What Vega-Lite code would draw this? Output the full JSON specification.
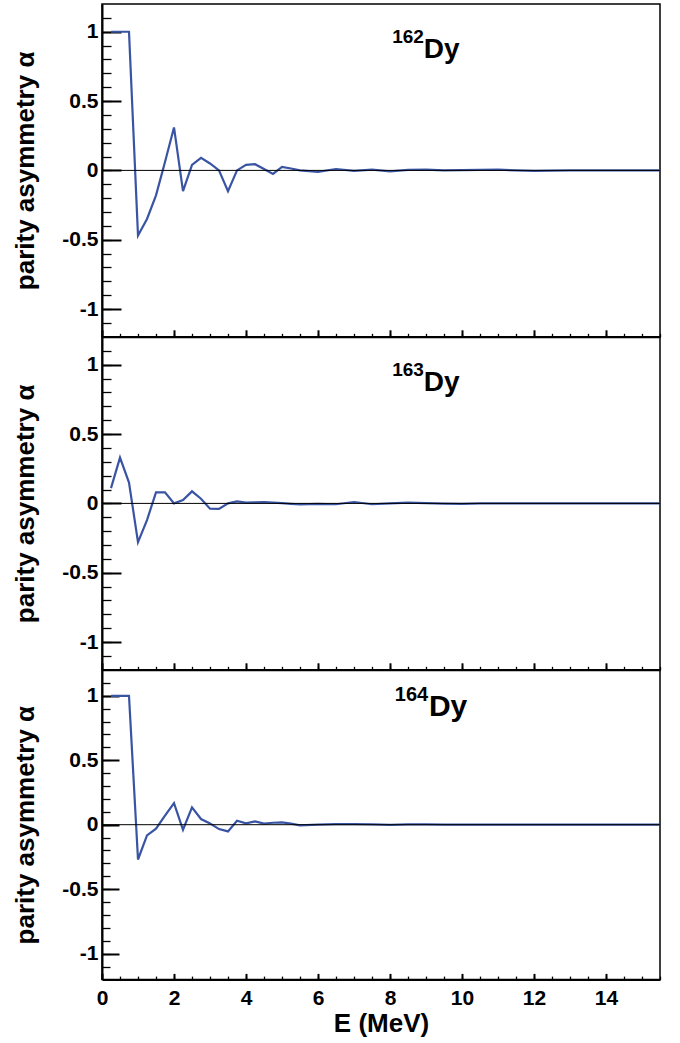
{
  "$schema": "https://vega.github.io/schema/vega-lite/v6.json",
  "background": "white",
  "padding": {"left": 12, "top": 3, "right": 5, "bottom": 3},
  "bounds": "flush",
  "spacing": 0,
  "config": {
    "view": {"stroke": "black", "strokeWidth": 1.5},
    "font": "Liberation Sans",
    "axis": {"grid": false, "labelFlush": false, "domainColor": "black", "tickColor": "black", "labelColor": "black", "titleColor": "black", "labelFont": "Liberation Sans", "titleFont": "Liberation Sans", "labelFontWeight": "bold", "titleFontWeight": "bold"}
  },
  "datasets": {
    "curves": [
      {"nucleus": "162Dy", "E": 0.25, "alpha": 1}, {"nucleus": "162Dy", "E": 0.5, "alpha": 1}, {"nucleus": "162Dy", "E": 0.75, "alpha": 1},
      {"nucleus": "162Dy", "E": 1.0, "alpha": -0.47}, {"nucleus": "162Dy", "E": 1.25, "alpha": -0.35}, {"nucleus": "162Dy", "E": 1.5, "alpha": -0.18},
      {"nucleus": "162Dy", "E": 1.75, "alpha": 0.06}, {"nucleus": "162Dy", "E": 2.0, "alpha": 0.31}, {"nucleus": "162Dy", "E": 2.25, "alpha": -0.15},
      {"nucleus": "162Dy", "E": 2.5, "alpha": 0.04}, {"nucleus": "162Dy", "E": 2.75, "alpha": 0.09}, {"nucleus": "162Dy", "E": 3.0, "alpha": 0.05},
      {"nucleus": "162Dy", "E": 3.25, "alpha": 0.0}, {"nucleus": "162Dy", "E": 3.5, "alpha": -0.15}, {"nucleus": "162Dy", "E": 3.75, "alpha": 0.0},
      {"nucleus": "162Dy", "E": 4.0, "alpha": 0.04}, {"nucleus": "162Dy", "E": 4.25, "alpha": 0.045}, {"nucleus": "162Dy", "E": 4.5, "alpha": 0.01},
      {"nucleus": "162Dy", "E": 4.75, "alpha": -0.025}, {"nucleus": "162Dy", "E": 5.0, "alpha": 0.025}, {"nucleus": "162Dy", "E": 5.25, "alpha": 0.014},
      {"nucleus": "162Dy", "E": 5.5, "alpha": 0.0}, {"nucleus": "162Dy", "E": 6.0, "alpha": -0.01}, {"nucleus": "162Dy", "E": 6.5, "alpha": 0.01},
      {"nucleus": "162Dy", "E": 7.0, "alpha": -0.004}, {"nucleus": "162Dy", "E": 7.5, "alpha": 0.005}, {"nucleus": "162Dy", "E": 8.0, "alpha": -0.007},
      {"nucleus": "162Dy", "E": 8.5, "alpha": 0.004}, {"nucleus": "162Dy", "E": 9.0, "alpha": 0.005}, {"nucleus": "162Dy", "E": 9.5, "alpha": 0.0},
      {"nucleus": "162Dy", "E": 10.0, "alpha": 0.002}, {"nucleus": "162Dy", "E": 10.5, "alpha": 0.004}, {"nucleus": "162Dy", "E": 11.0, "alpha": 0.005},
      {"nucleus": "162Dy", "E": 11.5, "alpha": 0.0}, {"nucleus": "162Dy", "E": 12.0, "alpha": -0.004}, {"nucleus": "162Dy", "E": 12.5, "alpha": -0.002},
      {"nucleus": "162Dy", "E": 13.0, "alpha": 0.0}, {"nucleus": "162Dy", "E": 13.5, "alpha": 0.0}, {"nucleus": "162Dy", "E": 14.0, "alpha": 0.0},
      {"nucleus": "162Dy", "E": 14.5, "alpha": 0.0}, {"nucleus": "162Dy", "E": 15.0, "alpha": 0.0}, {"nucleus": "162Dy", "E": 15.5, "alpha": 0.0},

      {"nucleus": "163Dy", "E": 0.25, "alpha": 0.11}, {"nucleus": "163Dy", "E": 0.5, "alpha": 0.33}, {"nucleus": "163Dy", "E": 0.75, "alpha": 0.15},
      {"nucleus": "163Dy", "E": 1.0, "alpha": -0.28}, {"nucleus": "163Dy", "E": 1.25, "alpha": -0.12}, {"nucleus": "163Dy", "E": 1.5, "alpha": 0.08},
      {"nucleus": "163Dy", "E": 1.75, "alpha": 0.08}, {"nucleus": "163Dy", "E": 2.0, "alpha": 0.0}, {"nucleus": "163Dy", "E": 2.25, "alpha": 0.024},
      {"nucleus": "163Dy", "E": 2.5, "alpha": 0.087}, {"nucleus": "163Dy", "E": 2.75, "alpha": 0.034}, {"nucleus": "163Dy", "E": 3.0, "alpha": -0.038},
      {"nucleus": "163Dy", "E": 3.25, "alpha": -0.04}, {"nucleus": "163Dy", "E": 3.5, "alpha": 0.0}, {"nucleus": "163Dy", "E": 3.75, "alpha": 0.014},
      {"nucleus": "163Dy", "E": 4.0, "alpha": 0.005}, {"nucleus": "163Dy", "E": 4.25, "alpha": 0.007}, {"nucleus": "163Dy", "E": 4.5, "alpha": 0.01},
      {"nucleus": "163Dy", "E": 4.75, "alpha": 0.006}, {"nucleus": "163Dy", "E": 5.0, "alpha": 0.002}, {"nucleus": "163Dy", "E": 5.25, "alpha": -0.003},
      {"nucleus": "163Dy", "E": 5.5, "alpha": -0.007}, {"nucleus": "163Dy", "E": 6.0, "alpha": -0.004}, {"nucleus": "163Dy", "E": 6.5, "alpha": -0.006},
      {"nucleus": "163Dy", "E": 7.0, "alpha": 0.01}, {"nucleus": "163Dy", "E": 7.5, "alpha": -0.006}, {"nucleus": "163Dy", "E": 8.0, "alpha": 0.0},
      {"nucleus": "163Dy", "E": 8.5, "alpha": 0.005}, {"nucleus": "163Dy", "E": 9.0, "alpha": 0.002}, {"nucleus": "163Dy", "E": 9.5, "alpha": -0.002},
      {"nucleus": "163Dy", "E": 10.0, "alpha": -0.004}, {"nucleus": "163Dy", "E": 10.5, "alpha": 0.0}, {"nucleus": "163Dy", "E": 11.0, "alpha": 0.0},
      {"nucleus": "163Dy", "E": 11.5, "alpha": 0.0}, {"nucleus": "163Dy", "E": 12.0, "alpha": 0.0}, {"nucleus": "163Dy", "E": 12.5, "alpha": 0.0},
      {"nucleus": "163Dy", "E": 13.0, "alpha": 0.0}, {"nucleus": "163Dy", "E": 13.5, "alpha": 0.0}, {"nucleus": "163Dy", "E": 14.0, "alpha": 0.0},
      {"nucleus": "163Dy", "E": 14.5, "alpha": 0.0}, {"nucleus": "163Dy", "E": 15.0, "alpha": 0.0}, {"nucleus": "163Dy", "E": 15.5, "alpha": 0.0},

      {"nucleus": "164Dy", "E": 0.25, "alpha": 1}, {"nucleus": "164Dy", "E": 0.5, "alpha": 1}, {"nucleus": "164Dy", "E": 0.75, "alpha": 1},
      {"nucleus": "164Dy", "E": 1.0, "alpha": -0.27}, {"nucleus": "164Dy", "E": 1.25, "alpha": -0.083}, {"nucleus": "164Dy", "E": 1.5, "alpha": -0.031},
      {"nucleus": "164Dy", "E": 1.75, "alpha": 0.07}, {"nucleus": "164Dy", "E": 2.0, "alpha": 0.168}, {"nucleus": "164Dy", "E": 2.25, "alpha": -0.039},
      {"nucleus": "164Dy", "E": 2.5, "alpha": 0.134}, {"nucleus": "164Dy", "E": 2.75, "alpha": 0.044}, {"nucleus": "164Dy", "E": 3.0, "alpha": 0.01},
      {"nucleus": "164Dy", "E": 3.25, "alpha": -0.034}, {"nucleus": "164Dy", "E": 3.5, "alpha": -0.052}, {"nucleus": "164Dy", "E": 3.75, "alpha": 0.031},
      {"nucleus": "164Dy", "E": 4.0, "alpha": 0.01}, {"nucleus": "164Dy", "E": 4.25, "alpha": 0.026}, {"nucleus": "164Dy", "E": 4.5, "alpha": 0.008},
      {"nucleus": "164Dy", "E": 4.75, "alpha": 0.015}, {"nucleus": "164Dy", "E": 5.0, "alpha": 0.018}, {"nucleus": "164Dy", "E": 5.25, "alpha": 0.008},
      {"nucleus": "164Dy", "E": 5.5, "alpha": -0.005}, {"nucleus": "164Dy", "E": 6.0, "alpha": 0.0}, {"nucleus": "164Dy", "E": 6.5, "alpha": 0.004},
      {"nucleus": "164Dy", "E": 7.0, "alpha": 0.004}, {"nucleus": "164Dy", "E": 7.5, "alpha": 0.003}, {"nucleus": "164Dy", "E": 8.0, "alpha": -0.002},
      {"nucleus": "164Dy", "E": 8.5, "alpha": 0.002}, {"nucleus": "164Dy", "E": 9.0, "alpha": 0.002}, {"nucleus": "164Dy", "E": 9.5, "alpha": 0.0},
      {"nucleus": "164Dy", "E": 10.0, "alpha": 0.0}, {"nucleus": "164Dy", "E": 10.5, "alpha": 0.0}, {"nucleus": "164Dy", "E": 11.0, "alpha": 0.0},
      {"nucleus": "164Dy", "E": 11.5, "alpha": 0.0}, {"nucleus": "164Dy", "E": 12.0, "alpha": 0.0}, {"nucleus": "164Dy", "E": 12.5, "alpha": 0.0},
      {"nucleus": "164Dy", "E": 13.0, "alpha": 0.0}, {"nucleus": "164Dy", "E": 13.5, "alpha": 0.0}, {"nucleus": "164Dy", "E": 14.0, "alpha": 0.0},
      {"nucleus": "164Dy", "E": 14.5, "alpha": 0.0}, {"nucleus": "164Dy", "E": 15.0, "alpha": 0.0}, {"nucleus": "164Dy", "E": 15.5, "alpha": 0.0}
    ]
  },
  "vconcat": [
    {
      "width": 558, "height": 332.8,
      "resolve": {"axis": {"x": "independent", "y": "independent"}},
      "layer": [
        {
          "data": {"name": "curves"},
          "transform": [{"filter": "datum.nucleus === '162Dy'"}],
          "mark": {"type": "line", "color": "#3a54a4", "strokeWidth": 2.2},
          "encoding": {
            "x": {"field": "E", "type": "quantitative", "scale": {"domain": [0, 15.5], "nice": false, "zero": false},
                  "axis": {"orient": "bottom", "values": [0, 2, 4, 6, 8, 10, 12, 14], "tickSize": -7, "tickWidth": 2, "domainWidth": 2, "labels": false, "title": null}},
            "y": {"field": "alpha", "type": "quantitative", "scale": {"domain": [-1.2, 1.2], "nice": false, "zero": false},
                  "axis": {"orient": "left", "values": [-1, -0.5, 0, 0.5, 1], "tickSize": -19, "tickWidth": 2, "domainWidth": 2, "labelExpr": "toString(datum.value)", "labelFontSize": 21, "labelPadding": 23, "title": "parity asymmetry α", "titleFontSize": 26, "titlePadding": 23}}
          }
        },
        {
          "data": {"values": [{}]},
          "mark": {"type": "rule", "color": "black", "strokeWidth": 1},
          "encoding": {
            "y": {"datum": 0, "type": "quantitative",
                  "axis": {"orient": "left", "values": [-1.1, -1, -0.9, -0.8, -0.7, -0.6, -0.5, -0.4, -0.3, -0.2, -0.1, 0, 0.1, 0.2, 0.3, 0.4, 0.5, 0.6, 0.7, 0.8, 0.9, 1, 1.1], "tickSize": -9, "tickWidth": 1.3, "labels": false, "domain": false, "title": null}}
          }
        },
        {
          "data": {"values": [{"t": "Dy"}]},
          "mark": {"type": "text", "align": "left", "baseline": "alphabetic", "fontSize": 28, "fontWeight": "bold", "font": "Liberation Sans", "color": "black"},
          "encoding": {
            "x": {"datum": 8.94, "type": "quantitative",
                  "axis": {"orient": "bottom", "values": [0.5, 1, 1.5, 2, 2.5, 3, 3.5, 4, 4.5, 5, 5.5, 6, 6.5, 7, 7.5, 8, 8.5, 9, 9.5, 10, 10.5, 11, 11.5, 12, 12.5, 13, 13.5, 14, 14.5, 15, 15.5], "tickSize": -3.5, "tickWidth": 1.3, "labels": false, "domain": false, "title": null}},
            "y": {"datum": 0.81, "type": "quantitative", "axis": null},
            "text": {"field": "t"}
          }
        },
        {
          "data": {"values": [{"t": "162"}]},
          "mark": {"type": "text", "align": "right", "baseline": "alphabetic", "fontSize": 19, "fontWeight": "bold", "font": "Liberation Sans", "color": "black"},
          "encoding": {
            "x": {"datum": 8.94, "type": "quantitative", "axis": null},
            "y": {"datum": 0.92, "type": "quantitative", "axis": null},
            "text": {"field": "t"}
          }
        }
      ]
    },
    {
      "width": 558, "height": 332.8,
      "resolve": {"axis": {"x": "independent", "y": "independent"}},
      "layer": [
        {
          "data": {"name": "curves"},
          "transform": [{"filter": "datum.nucleus === '163Dy'"}],
          "mark": {"type": "line", "color": "#3a54a4", "strokeWidth": 2.2},
          "encoding": {
            "x": {"field": "E", "type": "quantitative", "scale": {"domain": [0, 15.5], "nice": false, "zero": false},
                  "axis": {"orient": "bottom", "values": [0, 2, 4, 6, 8, 10, 12, 14], "tickSize": -7, "tickWidth": 2, "domainWidth": 2, "labels": false, "title": null}},
            "y": {"field": "alpha", "type": "quantitative", "scale": {"domain": [-1.2, 1.2], "nice": false, "zero": false},
                  "axis": {"orient": "left", "values": [-1, -0.5, 0, 0.5, 1], "tickSize": -19, "tickWidth": 2, "domainWidth": 2, "labelExpr": "toString(datum.value)", "labelFontSize": 21, "labelPadding": 23, "title": "parity asymmetry α", "titleFontSize": 26, "titlePadding": 23}}
          }
        },
        {
          "data": {"values": [{}]},
          "mark": {"type": "rule", "color": "black", "strokeWidth": 1},
          "encoding": {
            "y": {"datum": 0, "type": "quantitative",
                  "axis": {"orient": "left", "values": [-1.1, -1, -0.9, -0.8, -0.7, -0.6, -0.5, -0.4, -0.3, -0.2, -0.1, 0, 0.1, 0.2, 0.3, 0.4, 0.5, 0.6, 0.7, 0.8, 0.9, 1, 1.1], "tickSize": -9, "tickWidth": 1.3, "labels": false, "domain": false, "title": null}}
          }
        },
        {
          "data": {"values": [{"t": "Dy"}]},
          "mark": {"type": "text", "align": "left", "baseline": "alphabetic", "fontSize": 28, "fontWeight": "bold", "font": "Liberation Sans", "color": "black"},
          "encoding": {
            "x": {"datum": 8.94, "type": "quantitative",
                  "axis": {"orient": "bottom", "values": [0.5, 1, 1.5, 2, 2.5, 3, 3.5, 4, 4.5, 5, 5.5, 6, 6.5, 7, 7.5, 8, 8.5, 9, 9.5, 10, 10.5, 11, 11.5, 12, 12.5, 13, 13.5, 14, 14.5, 15, 15.5], "tickSize": -3.5, "tickWidth": 1.3, "labels": false, "domain": false, "title": null}},
            "y": {"datum": 0.81, "type": "quantitative", "axis": null},
            "text": {"field": "t"}
          }
        },
        {
          "data": {"values": [{"t": "163"}]},
          "mark": {"type": "text", "align": "right", "baseline": "alphabetic", "fontSize": 19, "fontWeight": "bold", "font": "Liberation Sans", "color": "black"},
          "encoding": {
            "x": {"datum": 8.94, "type": "quantitative", "axis": null},
            "y": {"datum": 0.92, "type": "quantitative", "axis": null},
            "text": {"field": "t"}
          }
        }
      ]
    },
    {
      "width": 558, "height": 309.4,
      "resolve": {"axis": {"x": "independent", "y": "independent"}},
      "layer": [
        {
          "data": {"name": "curves"},
          "transform": [{"filter": "datum.nucleus === '164Dy'"}],
          "mark": {"type": "line", "color": "#3a54a4", "strokeWidth": 2.2},
          "encoding": {
            "x": {"field": "E", "type": "quantitative", "scale": {"domain": [0, 15.5], "nice": false, "zero": false},
                  "axis": {"orient": "bottom", "values": [0, 2, 4, 6, 8, 10, 12, 14], "tickSize": -6, "tickWidth": 2, "domainWidth": 2, "labelExpr": "toString(datum.value)", "labelFontSize": 21, "labelPadding": 14, "title": "E (MeV)", "titleFontSize": 26, "titlePadding": 2}},
            "y": {"field": "alpha", "type": "quantitative", "scale": {"domain": [-1.2, 1.2], "nice": false, "zero": false},
                  "axis": {"orient": "left", "values": [-1, -0.5, 0, 0.5, 1], "tickSize": -17, "tickWidth": 2, "domainWidth": 2, "labelExpr": "toString(datum.value)", "labelFontSize": 21, "labelPadding": 21, "title": "parity asymmetry α", "titleFontSize": 26, "titlePadding": 23}}
          }
        },
        {
          "data": {"values": [{}]},
          "mark": {"type": "rule", "color": "black", "strokeWidth": 1},
          "encoding": {
            "y": {"datum": 0, "type": "quantitative",
                  "axis": {"orient": "left", "values": [-1.1, -1, -0.9, -0.8, -0.7, -0.6, -0.5, -0.4, -0.3, -0.2, -0.1, 0, 0.1, 0.2, 0.3, 0.4, 0.5, 0.6, 0.7, 0.8, 0.9, 1, 1.1], "tickSize": -8, "tickWidth": 1.3, "labels": false, "domain": false, "title": null}}
          }
        },
        {
          "data": {"values": [{"t": "Dy"}]},
          "mark": {"type": "text", "align": "left", "baseline": "alphabetic", "fontSize": 30, "fontWeight": "bold", "font": "Liberation Sans", "color": "black"},
          "encoding": {
            "x": {"datum": 9.08, "type": "quantitative",
                  "axis": {"orient": "bottom", "values": [0.5, 1, 1.5, 2, 2.5, 3, 3.5, 4, 4.5, 5, 5.5, 6, 6.5, 7, 7.5, 8, 8.5, 9, 9.5, 10, 10.5, 11, 11.5, 12, 12.5, 13, 13.5, 14, 14.5, 15, 15.5], "tickSize": -3.3, "tickWidth": 1.3, "labels": false, "domain": false, "title": null}},
            "y": {"datum": 0.84, "type": "quantitative", "axis": null},
            "text": {"field": "t"}
          }
        },
        {
          "data": {"values": [{"t": "164"}]},
          "mark": {"type": "text", "align": "right", "baseline": "alphabetic", "fontSize": 20, "fontWeight": "bold", "font": "Liberation Sans", "color": "black"},
          "encoding": {
            "x": {"datum": 9.06, "type": "quantitative", "axis": null},
            "y": {"datum": 0.96, "type": "quantitative", "axis": null},
            "text": {"field": "t"}
          }
        }
      ]
    }
  ]
}
